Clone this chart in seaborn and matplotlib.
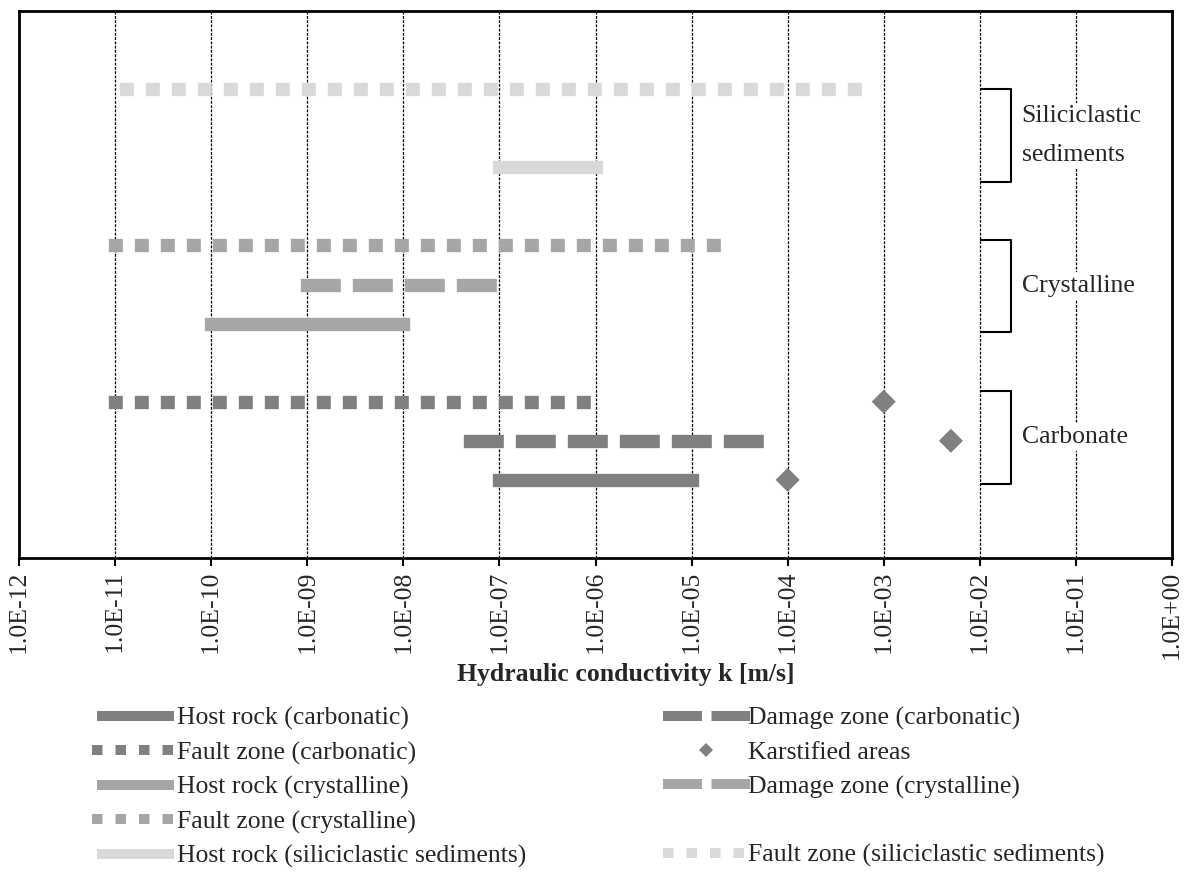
import matplotlib
matplotlib.use("Agg")
import matplotlib.pyplot as plt
from matplotlib.lines import Line2D
from matplotlib.ticker import FixedLocator, FixedFormatter, NullLocator
import pandas as pd
import seaborn as sns

# Hydraulic conductivity ranges k [m/s] per rock type and structural zone
series = [
    "Host rock (carbonatic)", "Damage zone (carbonatic)", "Fault zone (carbonatic)",
    "Host rock (crystalline)", "Damage zone (crystalline)", "Fault zone (crystalline)",
    "Host rock (siliciclastic sediments)", "Fault zone (siliciclastic sediments)",
]
rock = ["carbonatic", "carbonatic", "carbonatic",
        "crystalline", "crystalline", "crystalline",
        "siliciclastic", "siliciclastic"]
zone = ["host", "damage", "fault", "host", "damage", "fault", "host", "fault"]
k_min = [1e-7, 5e-8, 1e-11, 1e-10, 1e-9, 1e-11, 1e-7, 1.3e-11]
k_max = [1e-5, 5.3e-5, 1e-6, 1e-8, 1e-7, 1.8e-5, 1e-6, 7.3e-4]
row = [2, 3, 4, 6, 7, 8, 10, 12]

# Karstified areas (carbonate)
karst_k = [1e-4, 5e-3, 1e-3]
karst_row = [2, 3, 4]

# Group brackets on the right
groups = ["Carbonate", "Crystalline", "Siliciclastic\nsediments"]
group_low = [1.9, 5.78, 9.63]
group_high = [4.27, 8.15, 12.0]

decade_exp = list(range(-12, 1))
tick_labels = ["1.0E-12", "1.0E-11", "1.0E-10", "1.0E-09", "1.0E-08", "1.0E-07",
               "1.0E-06", "1.0E-05", "1.0E-04", "1.0E-03", "1.0E-02", "1.0E-01",
               "1.0E+00"]

# ---------------------------------------------------------------- styling
sns.set_style("white")
plt.rcParams["font.family"] = ["Liberation Serif", "DejaVu Serif"]
FS = 18.5

colors = {"carbonatic": "#808080", "crystalline": "#a6a6a6", "siliciclastic": "#d9d9d9"}
LW = 9.6        # bar thickness in points
LW_LEG = 7.2
# dash patterns (in line-width units, drawn with projecting caps)
dash = {"host": None, "damage": (2.0, 1.9), "fault": (0.05, 1.9)}
dash_leg = {"host": None, "damage": (2.9, 1.95), "fault": (0.05, 2.3)}

fig = plt.figure(figsize=(11.91, 8.74), dpi=100)
W, H = 1191, 874
ax = fig.add_axes([19 / W, 1 - 558 / H, (1172 - 19) / W, (558 - 11) / H])
ax.set_xscale("log")

for name, lo, hi, y, rk, zn in zip(series, k_min, k_max, row, rock, zone):
    df = pd.DataFrame({"k": [lo, hi], "row": [y, y]})
    sns.lineplot(data=df, x="k", y="row", ax=ax, color=colors[rk], linewidth=LW,
                 errorbar=None, legend=False, sort=False,
                 solid_capstyle="projecting", dash_capstyle="projecting", zorder=3)
    if dash[zn] is not None:
        ax.lines[-1].set_dashes(dash[zn])

sns.scatterplot(x=karst_k, y=karst_row, ax=ax, marker="D", s=150,
                color=colors["carbonatic"], edgecolor="none", legend=False, zorder=4)

ax.set_xlim(1e-12, 1e0)
ax.set_ylim(0, 14)
ax.xaxis.set_major_locator(FixedLocator([10.0 ** e for e in decade_exp]))
ax.xaxis.set_major_formatter(FixedFormatter(tick_labels))
ax.xaxis.set_minor_locator(NullLocator())
ax.yaxis.set_major_locator(NullLocator())
ax.tick_params(axis="x", which="major", direction="out", length=6, width=1.5,
               color="black", labelsize=FS, labelrotation=90, pad=3, bottom=True)
for lab in ax.get_xticklabels():
    lab.set_verticalalignment("top")
ax.set_xlabel("")
ax.set_ylabel("")
ax.xaxis.grid(True, color="black", linestyle=(0, (2.2, 1.2)), linewidth=0.9)
ax.set_axisbelow(True)
for sp in ax.spines.values():
    sp.set_color("black")
    sp.set_linewidth(2.0)
    sp.set_zorder(5)

# group brackets and their labels
x_arm = 1e-2
x_bracket = 10 ** -1.675
x_text = 10 ** -1.565
for name, lo, hi in zip(groups, group_low, group_high):
    ax.plot([x_arm, x_bracket, x_bracket, x_arm], [hi, hi, lo, lo],
            color="black", linewidth=1.5, zorder=4, solid_capstyle="butt")
    ax.text(x_text, (lo + hi) / 2, name, ha="left", va="center", fontsize=FS,
            linespacing=1.95, zorder=4,
            bbox=dict(facecolor="white", edgecolor="none", pad=2))

fig.text(626 / W, 1 - 675 / H, "Hydraulic conductivity k [m/s]", ha="center",
         va="center", fontsize=FS, fontweight="bold")

# legend
def leg_line(rk, zn):
    h = Line2D([], [], color=colors[rk], linewidth=LW_LEG,
               solid_capstyle="butt", dash_capstyle="projecting")
    if dash_leg[zn] is not None:
        h.set_dashes(dash_leg[zn])
    return h

idx = {n: i for i, n in enumerate(series)}
def handle_for(n):
    i = idx[n]
    return leg_line(rock[i], zone[i])

karst_handle = Line2D([], [], linestyle="none", marker="D", markersize=7.5,
                      color=colors["carbonatic"], markeredgewidth=0)
blank_handle = Line2D([], [], linestyle="none")

left_col = ["Host rock (carbonatic)", "Fault zone (carbonatic)",
            "Host rock (crystalline)", "Fault zone (crystalline)",
            "Host rock (siliciclastic sediments)"]
handles = [handle_for(n) for n in left_col]
labels = list(left_col)
handles += [handle_for("Damage zone (carbonatic)"), karst_handle,
            handle_for("Damage zone (crystalline)"), blank_handle,
            handle_for("Fault zone (siliciclastic sediments)")]
labels += ["Damage zone (carbonatic)", "Karstified areas",
           "Damage zone (crystalline)", " ", "Fault zone (siliciclastic sediments)"]

fig.legend(handles, labels, ncol=2, loc="upper left",
           bbox_to_anchor=(97 / W, 1 - 707 / H), bbox_transform=fig.transFigure,
           frameon=False, fontsize=FS, handlelength=3.0, handletextpad=0.12,
           columnspacing=5.5, labelspacing=0.43, borderpad=0, borderaxespad=0)

fig.savefig("out.png", dpi=100)
